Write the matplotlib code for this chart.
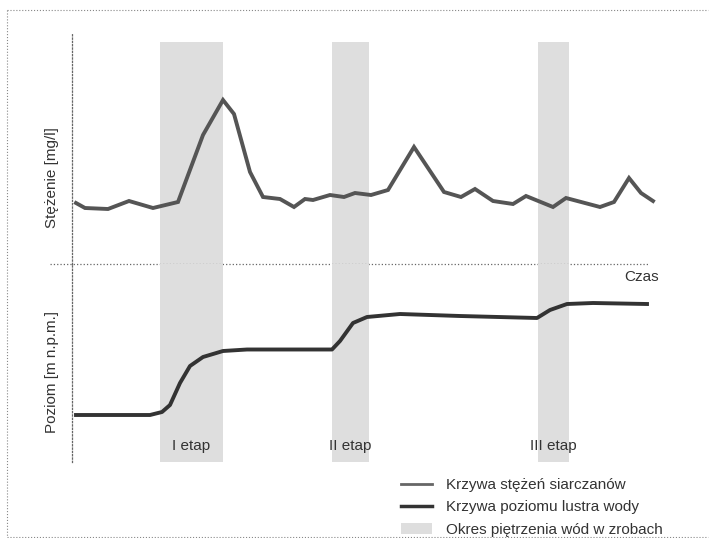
import numpy as np
import matplotlib
matplotlib.use("Agg")
import matplotlib.pyplot as plt
from matplotlib.lines import Line2D
from matplotlib.patches import Patch

plt.rcParams['font.family'] = ['Liberation Sans', 'DejaVu Sans']

# concentration curve (time, arbitrary units)
t_conc = [0, 0.9, 3.2, 5.3, 7.7, 10.2, 12.7, 14.7, 15.8, 17.4, 18.7, 20.4,
          21.8, 22.9, 23.7, 25.4, 26.8, 27.9, 29.5, 31.2, 33.8, 36.8, 38.5,
          39.9, 41.7, 43.7, 45.0, 47.7, 49.0, 52.4, 53.8, 55.3, 56.5, 57.7]
conc = [30.5, 28, 27.5, 31.5, 28, 31, 64.5, 82, 75, 46, 33.5, 32.5,
        28.5, 32.5, 32, 34.5, 33.5, 35.5, 34.5, 37, 58.5, 36, 33.5,
        37.5, 31.5, 30, 34, 28.5, 33, 28.5, 31, 43, 35.5, 31.5]

# water level curve
t_level = [0, 7.4, 8.6, 9.4, 10.4, 11.4, 12.7, 14.7, 17.1, 25.6, 26.4,
           27.7, 29.1, 32.4, 38.4, 46.1, 47.4, 49.1, 51.7, 57.1]
level = [23.5, 23.5, 25, 28.5, 39.5, 48, 52.5, 55.5, 56.25, 56.25, 60.5,
         69.5, 72.5, 74, 73, 72, 76, 79, 79.5, 79]

# damming periods
stages = ["I etap", "II etap", "III etap"]
band_start = [8.4, 25.6, 46.2]
band_end = [14.7, 29.3, 49.3]

W, H = 711, 538
fig = plt.figure(figsize=(W / 100, H / 100), dpi=100)

x_left, x_right = 72, 700
xlim = ((x_left - 76) / 10, (x_right - 76) / 10)

def fig_rect(x0, y_top, x1, y_bot):
    return [x0 / W, 1 - y_bot / H, (x1 - x0) / W, (y_bot - y_top) / H]

ax_top = fig.add_axes(fig_rect(x_left, 33, x_right, 264))
ax_bot = fig.add_axes(fig_rect(x_left, 264, x_right, 462), sharex=ax_top)

ax_top.set_ylim(0, 115.5)
ax_bot.set_ylim(0, 99)
ax_top.set_xlim(*xlim)

band_col = '#dedede'
for a, b in zip(band_start, band_end):
    ax_top.axvspan(a, b, ymin=0, ymax=0.961, color=band_col, lw=0, zorder=0)
    ax_bot.axvspan(a, b, color=band_col, lw=0, zorder=0)

ax_top.plot(t_conc, conc, color='#555555', lw=2.8, solid_joinstyle='miter', zorder=3)
ax_bot.plot(t_level, level, color='#333333', lw=2.8, zorder=3)

for ax in (ax_top, ax_bot):
    ax.set_facecolor('none')
    for s in ('top', 'right', 'bottom'):
        ax.spines[s].set_visible(False)
    ax.spines['left'].set_linestyle(':')
    ax.spines['left'].set_color('#666666')
    ax.spines['left'].set_linewidth(0.9)
    ax.set_xticks([])
    ax.set_yticks([])

# horizontal time axis
ax_top.plot([(50 - x_left) / (x_right - x_left), (648 - x_left) / (x_right - x_left)],
            [0, 0], transform=ax_top.transAxes, ls=':', color='#666666',
            lw=0.9, clip_on=False, zorder=2)

txt = '#333333'
fs = 11
for name, a, b in zip(stages, band_start, band_end):
    ax_bot.text((a + b) / 2, 0.08, name, transform=ax_bot.get_xaxis_transform(),
                ha='center', va='center', fontsize=fs, color=txt)

fig.text(642 / W, 1 - 277 / H, "Czas", ha='center', va='center', fontsize=fs, color=txt)
fig.text(52 / W, 1 - 178 / H, "Stężenie [mg/l]", rotation=90, ha='center',
         va='center', fontsize=fs, color=txt)
fig.text(52 / W, 1 - 372 / H, "Poziom [m n.p.m.]", rotation=90, ha='center',
         va='center', fontsize=fs, color=txt)

# outer dotted frame
frame_kw = dict(ls=':', color='#888888', lw=0.8, transform=fig.transFigure)
fig.add_artist(Line2D([7 / W, 7 / W], [1 - 10 / H, 1 - 537 / H], **frame_kw))
fig.add_artist(Line2D([7 / W, 708 / W], [1 - 10 / H, 1 - 10 / H], **frame_kw))
fig.add_artist(Line2D([7 / W, 708 / W], [1 - 537 / H, 1 - 537 / H], **frame_kw))

handles = [Line2D([], [], color='#666666', lw=2),
           Line2D([], [], color='#333333', lw=2.5),
           Patch(facecolor=band_col, edgecolor='none')]
labels = ["Krzywa stężeń siarczanów", "Krzywa poziomu lustra wody",
          "Okres piętrzenia wód w zrobach"]
fig.legend(handles, labels, loc='upper left', bbox_to_anchor=(401 / W, 1 - 478 / H),
           frameon=False, fontsize=fs, handlelength=2.0, handletextpad=0.95,
           labelspacing=0.55, labelcolor=txt, borderpad=0, borderaxespad=0)

fig.savefig("out.png", dpi=100)
